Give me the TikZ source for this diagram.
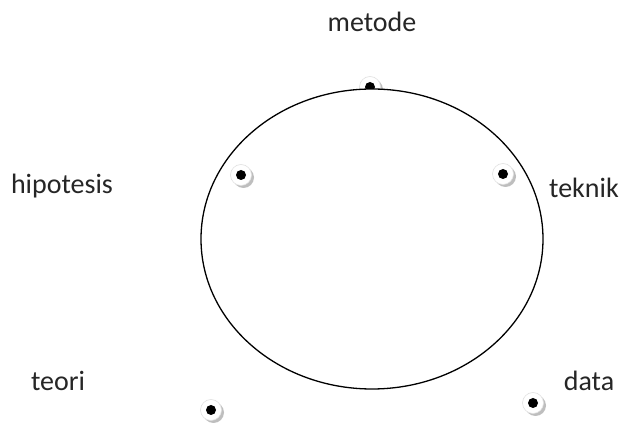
\documentclass[tikz,border=0pt]{standalone}
\usepackage{fontspec}
\setmainfont{Carlito}
\usepackage{tikz}
\usetikzlibrary{shadows}
\definecolor{dotshade}{RGB}{190,190,190}
\definecolor{dotrim}{RGB}{225,225,225}

\begin{document}
\begin{tikzpicture}[x=1pt, y=-1pt,
lbl/.style={font=\fontsize{28}{32}\selectfont, text=black!85, inner sep=0pt, anchor=center},
titik/.style={circle, fill=white, draw=dotrim, line width=0.6pt, minimum size=21pt, inner sep=0pt,
drop shadow={shadow xshift=2.5pt, shadow yshift=-2.5pt, fill=dotshade, opacity=1},
path picture={\fill[black] (path picture bounding box.center) circle (5pt);}},
ring/.style={draw=black, line width=1.3pt, fill=white}
]
\fill[white] (0,0) rectangle (622,427);
\useasboundingbox (0,0) rectangle (622,427);

% the point on top sits under the ring
\node[titik] (tMetode) at (370,87) {};
\draw[ring] (372,239) ellipse [x radius=171, y radius=150];

\node[titik] (tHipotesis) at (241,175) {};
\node[titik] (tTeknik) at (503,174) {};
\node[titik] (tTeori) at (211,410) {};
\node[titik] (tData) at (533,403) {};

\node[lbl] (metode) at (372,22) {metode};
\node[lbl] (hipotesis) at (62,186) {hipotesis};
\node[lbl] (teknik) at (584,188) {teknik};
\node[lbl] (teori) at (58,381) {teori};
\node[lbl] (data) at (589,381) {data};

\end{tikzpicture}
\end{document}
